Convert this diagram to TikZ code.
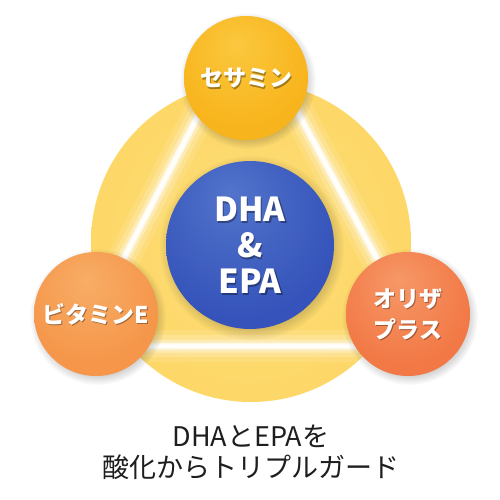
\documentclass[tikz,border=0pt]{standalone}
\usepackage{fontspec}
\newfontfamily\jp{Noto Sans CJK JP}
\newfontfamily\jpheavy{Noto Sans CJK JP}[UprightFont=* Black]
\usetikzlibrary{shadows}

\definecolor{ringmain}{HTML}{FDD764}
\definecolor{ringlight}{HTML}{FCDC78}
\definecolor{ringedge}{HTML}{FACD4C}
\definecolor{sesame}{HTML}{F8B41C}
\definecolor{sesamelight}{HTML}{FBC83E}
\definecolor{sesamedark}{HTML}{F1A411}
\definecolor{vite}{HTML}{F5964A}
\definecolor{vitelight}{HTML}{F8AD66}
\definecolor{vitedark}{HTML}{EE8436}
\definecolor{oriza}{HTML}{F27946}
\definecolor{orizalight}{HTML}{F69867}
\definecolor{orizadark}{HTML}{E8643A}
\definecolor{dha}{HTML}{3553BA}
\definecolor{dhalight}{HTML}{5274CB}
\definecolor{dhadark}{HTML}{233E9E}
\definecolor{captiongray}{HTML}{1E1E1E}

\pgfdeclareradialshading{ringball}{\pgfpoint{0bp}{0bp}}{color(0bp)=(ringlight); color(30bp)=(ringmain); color(47bp)=(ringmain); color(50bp)=(ringedge); color(60bp)=(ringedge)}
\pgfdeclareradialshading{sesameball}{\pgfpoint{-4bp}{14bp}}{color(0bp)=(sesamelight); color(28bp)=(sesame); color(44bp)=(sesame); color(50bp)=(sesamedark); color(60bp)=(sesamedark)}
\pgfdeclareradialshading{viteball}{\pgfpoint{-4bp}{14bp}}{color(0bp)=(vitelight); color(28bp)=(vite); color(44bp)=(vite); color(50bp)=(vitedark); color(60bp)=(vitedark)}
\pgfdeclareradialshading{orizaball}{\pgfpoint{-4bp}{14bp}}{color(0bp)=(orizalight); color(28bp)=(oriza); color(44bp)=(oriza); color(50bp)=(orizadark); color(60bp)=(orizadark)}
\pgfdeclareradialshading{dhaball}{\pgfpoint{-6bp}{16bp}}{color(0bp)=(dhalight); color(30bp)=(dha); color(44bp)=(dha); color(50bp)=(dhadark); color(60bp)=(dhadark)}

\begin{document}
\begin{tikzpicture}[
        x=1pt, y=-1pt,
        declare function={
            Rring=160;
            Rsmall=62;
            Rblue=84;
        },
        ball/.style={circle, inner sep=0pt, shade, minimum size={2*Rsmall},
            circular drop shadow={shadow xshift=1.5pt, shadow yshift=-2.5pt, opacity=0.18, fill=black}},
        balltext/.style={text=white, align=center, font=\jpheavy\fontsize{23}{31}\selectfont},
        dhatext/.style={text=white, align=center, font=\jpheavy\fontsize{33}{36}\selectfont},
        textshadow/.style={text=black, opacity=0.35}
    ]
        \fill[white] (0,0) rectangle (500,500);
        \useasboundingbox (0,0) rectangle (500,500);

        \shade[shading=ringball] (251,242) circle (Rring);

        \coordinate (gtop) at (248,20);
        \coordinate (gleft) at (78,346);
        \coordinate (gright) at (424,346);
        \begin{scope}
            \clip (251,242) circle (Rring);
            \foreach \w/\o in {32/0.10, 22/0.18, 13/0.32, 7/0.65, 3.5/0.95}
                \draw[white, line width=\w, opacity=\o, line join=round] (gtop) -- (gleft) -- (gright) -- cycle;
        \end{scope}

        \node[ball, shading=sesameball] (sesame) at (246,78) {};
        \node[ball, shading=viteball] (vite) at (96,314) {};
        \node[ball, shading=orizaball] (oriza) at (408,314) {};
        \node[ball, shading=dhaball, minimum size={2*Rblue}] (dha) at (250,245) {};

        \foreach \p/\t in {sesame/{セサミン}, vite/{ビタミンE}, oriza/{オリザ\\プラス}} {
            \node[balltext, textshadow] (\p-shadow) at ([shift={(1.2,1.6)}]\p) {\t};
            \node[balltext] (\p-text) at (\p) {\t};
        }
        \node[dhatext, textshadow] (dha-shadow) at ([shift={(1.4,1.8)}]dha) {DHA\\\&\\EPA};
        \node[dhatext] (dha-text) at (dha) {DHA\\\&\\EPA};

        \node[font=\jp\fontsize{27}{31}\selectfont, text=captiongray, align=center] (caption) at (251,452) {DHAとEPAを\\酸化からトリプルガード};
    \end{tikzpicture}
\end{document}
